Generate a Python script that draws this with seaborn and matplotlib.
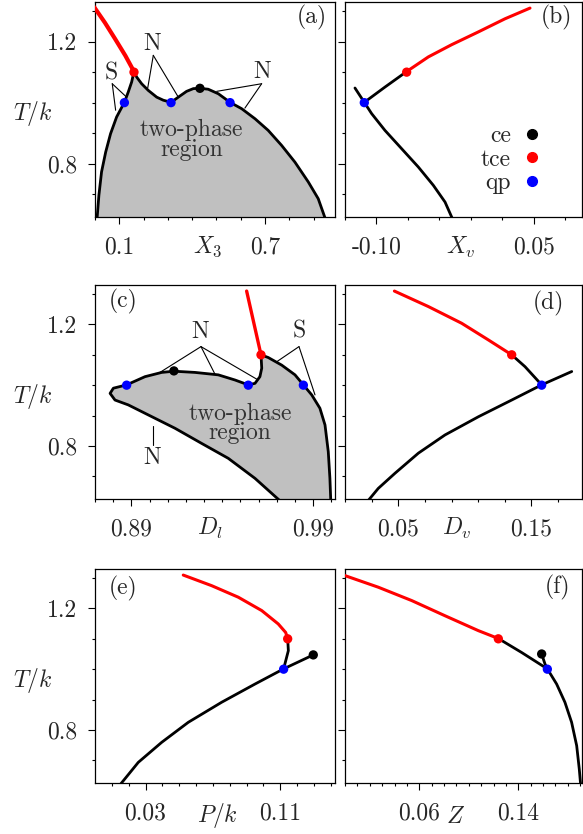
import seaborn as sns
import matplotlib.pyplot as plt
from matplotlib.lines import Line2D

sns.set_theme(style='ticks')
plt.rcParams['font.family'] = ['cmr10', 'DejaVu Serif']
plt.rcParams['mathtext.fontset'] = 'cm'
plt.rcParams['axes.unicode_minus'] = False
plt.rcParams['axes.formatter.use_mathtext'] = True

TXT = '#262626'
RED = '#ff0000'
BLUE = '#0000ff'
GRAY = '#c0c0c0'
FS = 17

T_qp = 1.0
T_tce = 1.1
T_ce = 1.047

# ---- (a) X3 : boundary of the two-phase region
a_bound_x = [0.008, 0.016, 0.027, 0.044, 0.064, 0.089, 0.121, 0.137, 0.151, 0.1605, 0.1715, 0.192,
             0.2195, 0.254, 0.281, 0.313, 0.343, 0.377, 0.405, 0.432, 0.466, 0.508, 0.556, 0.604,
             0.659, 0.713, 0.768, 0.823, 0.878, 0.919, 0.950]
a_bound_T = [0.615, 0.696, 0.773, 0.838, 0.898, 0.953, 1.001, 1.035, 1.068, 1.102, 1.084, 1.062,
             1.040, 1.018, 1.008, 1.001, 1.018, 1.037, 1.046, 1.047, 1.044, 1.029, 1.001, 0.980,
             0.947, 0.909, 0.860, 0.805, 0.740, 0.685, 0.615]
a_red_x = [-0.004, 0.041, 0.082, 0.125, 0.1605]
a_red_T = [1.314, 1.262, 1.210, 1.154, 1.102]
a_qp_x = [0.121, 0.313, 0.556]
a_tce_x = [0.1605]
a_ce_x = [0.432]

# ---- (b) Xv
b_red_x = [-0.0712, -0.0505, -0.0283, -0.0028, 0.0226, 0.0464]
b_red_T = [1.102, 1.150, 1.190, 1.232, 1.275, 1.310]
b_mid_x = [-0.1205, -0.1116, -0.0919, -0.0712]
b_mid_T = [1.048, 1.001, 1.051, 1.102]
b_low_x = [-0.1116, -0.1046, -0.0919, -0.0760, -0.0601, -0.0458, -0.0346, -0.0270]
b_low_T = [1.001, 0.964, 0.909, 0.849, 0.789, 0.729, 0.674, 0.615]
b_qp_x = [-0.1116]
b_tce_x = [-0.0712]

# ---- (c) Dl : boundary (lower branch -> nose -> upper branch -> cusp)
c_left_x = [0.9725, 0.958, 0.9433, 0.9287, 0.914, 0.8993, 0.8883, 0.881, 0.8783, 0.8801, 0.8874,
            0.8975, 0.9067, 0.9134, 0.925, 0.9378, 0.947, 0.9543, 0.958, 0.9607, 0.9617, 0.9613]
c_left_T = [0.615, 0.693, 0.759, 0.808, 0.858, 0.902, 0.935, 0.951, 0.973, 0.990, 1.001,
            1.028, 1.042, 1.046, 1.042, 1.034, 1.017, 1.001, 1.006, 1.028, 1.056, 1.100]
c_right_x = [0.9613, 0.9653, 0.9727, 0.980, 0.9846, 0.9892, 0.9937, 0.9965, 0.9983, 0.9992, 0.9997]
c_right_T = [1.100, 1.091, 1.066, 1.034, 1.001, 0.968, 0.924, 0.869, 0.781, 0.693, 0.615]
c_red_x = [0.9613, 0.9534]
c_red_T = [1.100, 1.310]
c_qp_x = [0.8874, 0.9543, 0.9846]
c_tce_x = [0.9613]
c_ce_x = [0.9134]

# ---- (d) Dv
d_red_x = [0.0471, 0.0726, 0.0976, 0.1177, 0.1352]
d_red_T = [1.310, 1.259, 1.204, 1.149, 1.100]
d_mid_x = [0.1352, 0.1452, 0.1577]
d_mid_T = [1.100, 1.061, 1.001]
d_low_x = [0.1803, 0.1577, 0.1352, 0.1102, 0.0851, 0.0651, 0.0476, 0.0350, 0.0265]
d_low_T = [1.045, 1.001, 0.951, 0.896, 0.836, 0.776, 0.710, 0.660, 0.615]
d_qp_x = [0.1577]
d_tce_x = [0.1352]

# ---- (e) P/k
e_red_x = [0.0524, 0.0693, 0.0851, 0.0990, 0.1088, 0.1132, 0.1144]
e_red_T = [1.310, 1.275, 1.237, 1.193, 1.149, 1.121, 1.101]
e_mid_x = [0.1144, 0.1148, 0.1120]
e_mid_T = [1.101, 1.061, 1.001]
e_low_x = [0.1296, 0.1120, 0.0950, 0.0752, 0.0554, 0.0396, 0.0257, 0.0150]
e_low_T = [1.047, 1.001, 0.951, 0.891, 0.825, 0.759, 0.693, 0.620]
e_qp_x = [0.112]
e_tce_x = [0.1144]
e_ce_x = [0.1296]

# ---- (f) Z
f_red_x = [-0.002, 0.0269, 0.0539, 0.0808, 0.1077, 0.1239]
f_red_T = [1.311, 1.270, 1.226, 1.176, 1.127, 1.101]
f_mid_x = [0.1239, 0.1427, 0.1635]
f_mid_T = [1.101, 1.055, 1.001]
f_ce_line_x = [0.1589, 0.1616, 0.1635]
f_ce_line_T = [1.050, 1.017, 1.001]
f_low_x = [0.1635, 0.1710, 0.1777, 0.1831, 0.1872, 0.1893, 0.1905]
f_low_T = [1.001, 0.951, 0.891, 0.825, 0.748, 0.671, 0.615]
f_qp_x = [0.1635]
f_tce_x = [0.1239]
f_ce_x = [0.1589]

ylim = (0.625, 1.33)

fig = plt.figure(figsize=(5.83, 8.34), dpi=100)
W, H = 583, 834
def add(l, t, r, b):
    return fig.add_axes([l / W, 1 - b / H, (r - l) / W, (b - t) / H])

ax_a = add(95, 2, 335, 217)
ax_b = add(345, 2, 582, 217)
ax_c = add(95, 285, 335, 499)
ax_d = add(345, 285, 582, 499)
ax_e = add(95, 569, 335, 783)
ax_f = add(345, 569, 582, 783)

def style(ax, xlim, majors, labels, minors, xlabel, xl_pos, panel, p_pos, left):
    ax.set_xlim(*xlim)
    ax.set_ylim(*ylim)
    ax.set_xticks(majors)
    ax.set_xticklabels(labels)
    ax.set_xticks(minors, minor=True)
    ax.set_yticks([0.8, 1.2])
    ax.set_yticks([0.7, 0.9, 1.0, 1.1, 1.3], minor=True)
    if left:
        ax.set_yticklabels(['0.8', '1.2'])
        ax.set_ylabel('$T/k$', rotation=0, fontsize=FS, color=TXT, ha='center', va='center')
        ax.yaxis.set_label_coords(-0.258, 0.48)
    else:
        ax.set_yticklabels([])
    ax.tick_params(which='major', direction='out', length=5, width=0.8,
                   labelsize=FS, labelcolor=TXT, color='black')
    ax.tick_params(axis='x', which='major', pad=9)
    ax.tick_params(axis='y', which='major', pad=8)
    ax.tick_params(which='minor', direction='out', length=2.5, width=0.8, color='black')
    ax.set_xlabel(xlabel, fontsize=FS, color=TXT, va='center')
    ax.xaxis.set_label_coords(xl_pos[0], xl_pos[1])
    for s in ax.spines.values():
        s.set_linewidth(0.9)
        s.set_color('black')
    ax.text(p_pos[0], p_pos[1], panel, transform=ax.transAxes, fontsize=FS, color=TXT,
            ha='center', va='center')

def line(ax, x, y, color='black', lw=2.0):
    sns.lineplot(x=x, y=y, sort=False, estimator=None, color=color, lw=lw, ax=ax,
                 legend=False, zorder=3, solid_joinstyle='round')

def dots(ax, x, T, color):
    sns.scatterplot(x=x, y=[T] * len(x), color=color, s=45, edgecolor='none', ax=ax,
                    legend=False, zorder=5)

# (a)
ax_a.fill(a_bound_x, a_bound_T, color=GRAY, lw=0, zorder=1)
line(ax_a, a_bound_x, a_bound_T)
line(ax_a, a_red_x, a_red_T, RED, 3.0)
dots(ax_a, a_qp_x, T_qp, BLUE)
dots(ax_a, a_tce_x, T_tce, RED)
dots(ax_a, a_ce_x, T_ce, 'black')
ax_a.text(0.398, 0.878, 'two-phase\nregion', fontsize=FS, color='#333333', ha='center',
          va='center', linespacing=0.85)
a_notes = [('S', (0.066, 1.095), (0.071, 1.062), [(0.130, 1.018), (0.085, 0.975)]),
           ('N', (0.236, 1.193), (0.240, 1.155), [(0.217, 1.048), (0.340, 1.022)]),
           ('N', (0.686, 1.100), (0.686, 1.062), [(0.501, 1.037), (0.617, 0.982)])]

# (b)
line(ax_b, b_red_x, b_red_T, RED, 2.2)
line(ax_b, b_mid_x, b_mid_T)
line(ax_b, b_low_x, b_low_T)
dots(ax_b, b_qp_x, T_qp, BLUE)
dots(ax_b, b_tce_x, T_tce, RED)

# (c)
c_bound_x = c_left_x + c_right_x[1:]
c_bound_T = c_left_T + c_right_T[1:]
ax_c.fill(c_bound_x, c_bound_T, color=GRAY, lw=0, zorder=1)
line(ax_c, c_left_x, c_left_T)
line(ax_c, c_right_x, c_right_T)
line(ax_c, c_red_x, c_red_T, RED, 2.4)
dots(ax_c, c_qp_x, T_qp, BLUE)
dots(ax_c, c_tce_x, T_tce, RED)
dots(ax_c, c_ce_x, T_ce, 'black')
ax_c.text(0.9497, 0.874, 'two-phase\nregion', fontsize=FS, color='#333333', ha='center',
          va='center', linespacing=0.85)
c_notes = [('N', (0.9277, 1.176), (0.9283, 1.127), [(0.9057, 1.042), (0.936, 1.036), (0.9589, 1.020)]),
           ('S', (0.9822, 1.176), (0.9822, 1.127), [(0.9699, 1.077), (0.991, 0.968)]),
           ('N', (0.9015, 0.759), (0.9021, 0.803), [(0.9021, 0.866)])]

# (d)
line(ax_d, d_red_x, d_red_T, RED, 2.2)
line(ax_d, d_mid_x, d_mid_T)
line(ax_d, d_low_x, d_low_T)
dots(ax_d, d_qp_x, T_qp, BLUE)
dots(ax_d, d_tce_x, T_tce, RED)

# (e)
line(ax_e, e_red_x, e_red_T, RED, 2.2)
line(ax_e, e_mid_x, e_mid_T)
line(ax_e, e_low_x, e_low_T)
dots(ax_e, e_qp_x, T_qp, BLUE)
dots(ax_e, e_tce_x, T_tce, RED)
dots(ax_e, e_ce_x, T_ce, 'black')

# (f)
line(ax_f, f_red_x, f_red_T, RED, 2.2)
line(ax_f, f_mid_x, f_mid_T)
line(ax_f, f_ce_line_x, f_ce_line_T)
line(ax_f, f_low_x, f_low_T)
dots(ax_f, f_qp_x, T_qp, BLUE)
dots(ax_f, f_tce_x, T_tce, RED)
dots(ax_f, f_ce_x, 1.050, 'black')

for ax, notes in [(ax_a, a_notes), (ax_c, c_notes)]:
    for lab, tpos, apex, targets in notes:
        ax.text(tpos[0], tpos[1], lab, fontsize=FS, color=TXT, ha='center', va='center', zorder=6)
        for tx, ty in targets:
            ax.plot([apex[0], tx], [apex[1], ty], color='black', lw=0.8, zorder=2)

style(ax_a, (0.0, 0.988), [0.1, 0.7], ['0.1', '0.7'], [0.0, 0.2, 0.3, 0.4, 0.5, 0.6, 0.8, 0.9],
      '$X_3$', (0.47, -0.14), '(a)', (0.904, 0.926), True)
style(ax_b, (-0.13, 0.096), [-0.10, 0.05], ['-0.10', '0.05'], [-0.13, -0.07, -0.04, -0.01, 0.02, 0.08],
      '$X_v$', (0.49, -0.14), '(b)', (0.893, 0.926), False)
style(ax_c, (0.87, 1.002), [0.89, 0.99], ['0.89', '0.99'],
      [0.87, 0.88, 0.90, 0.91, 0.92, 0.93, 0.94, 0.95, 0.96, 0.97, 0.98, 1.00],
      '$D_l$', (0.48, -0.14), '(c)', (0.117, 0.922), True)
style(ax_d, (0.01, 0.188), [0.05, 0.15], ['0.05', '0.15'], [0.01, 0.03, 0.07, 0.09, 0.11, 0.13, 0.17],
      '$D_v$', (0.47, -0.14), '(d)', (0.857, 0.916), False)
style(ax_e, (0.0, 0.1425), [0.03, 0.11], ['0.03', '0.11'],
      [0.01, 0.02, 0.04, 0.05, 0.06, 0.07, 0.08, 0.09, 0.10, 0.12, 0.13, 0.14],
      '$P/k$', (0.51, -0.15), '(e)', (0.117, 0.911), True)
style(ax_f, (0.0, 0.1915), [0.06, 0.14], ['0.06', '0.14'],
      [0.0, 0.01, 0.02, 0.03, 0.04, 0.05, 0.07, 0.08, 0.09, 0.10, 0.11, 0.12, 0.13, 0.15, 0.16, 0.17, 0.18, 0.19],
      '$Z$', (0.465, -0.16), '(f)', (0.895, 0.916), False)

handles = [Line2D([], [], marker='o', ls='', color=c, markersize=7) for c in ['black', RED, BLUE]]
leg = ax_b.legend(handles, ['ce', 'tce', 'qp'], loc='lower right', bbox_to_anchor=(0.90, 0.03),
                  frameon=False, markerfirst=False, fontsize=FS, handlelength=0.8,
                  handletextpad=0.5, labelspacing=0.05, borderpad=0.2)
for t in leg.get_texts():
    t.set_color(TXT)

fig.savefig('out.png', dpi=100)
